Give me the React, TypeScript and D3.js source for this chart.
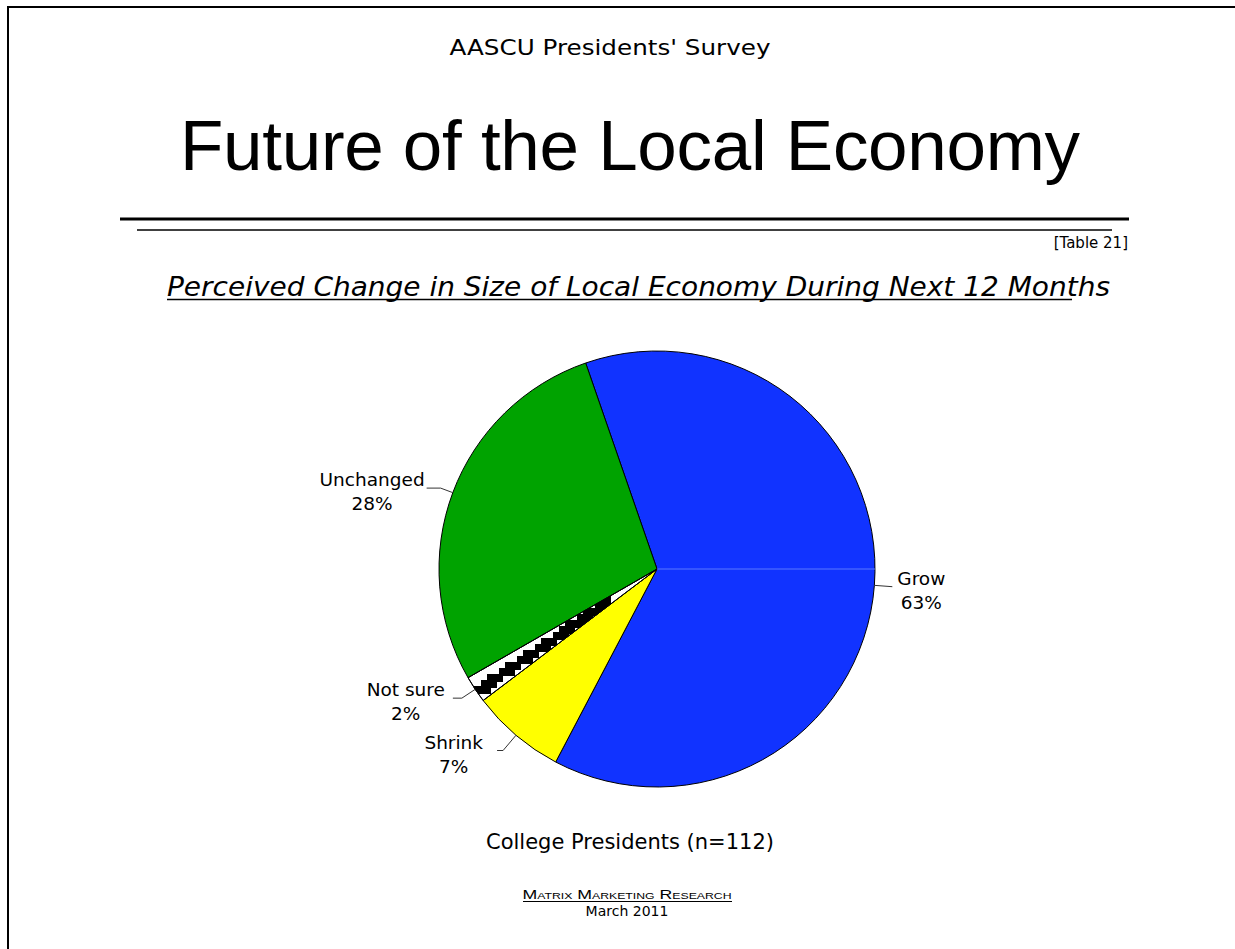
import React from "react";
import * as d3 from "d3";

const categories = ["Grow", "Shrink", "Not sure", "Unchanged"];
const values = [63, 7, 2, 28];
const sliceColors = ["#1133ff", "#ffff00", "#ffffff", "#00a300"];
const titleTop = "AASCU Presidents' Survey";
const title = "Future of the Local Economy";
const tableRef = "[Table 21]";
const heading = "Perceived Change in Size of Local Economy During Next 12 Months";
const caption = "College Presidents (n=112)";
const footer1 = "Matrix Marketing Research";
const footer2 = "March 2011";

const W = 1235;
const H = 949;
const cx = 657;
const cy = 569;
const R = 218;
const FONT = "'DejaVu Sans', 'Liberation Sans', sans-serif";
const LABEL_SIZE = 18.5;

function measure(text: string, font: string): number {
  const c = document.createElement("canvas").getContext("2d");
  if (!c) return text.length * 10;
  c.font = font;
  return c.measureText(text).width;
}

export default function App() {
  const start = (-19.1 * Math.PI) / 180;
  const pie = d3
    .pie<number>()
    .sort(null)
    .value((d) => d)
    .startAngle(start)
    .endAngle(start + 2 * Math.PI);
  const arcs = pie(values);
  const arcGen = d3.arc<d3.PieArcDatum<number>>().innerRadius(0).outerRadius(R);

  const pt = (a: number, r: number) => [cx + r * Math.sin(a), cy - r * Math.cos(a)];

  // leader configuration per slice: radial extension, horizontal tail, text gap
  const leaderExt = [18, 20, 16, 13];
  const tail = [0, 6, 9, 14];
  const gaps = [5, 14, 8, 2];

  // pattern squares for "Not sure"
  const ns = arcs[2];
  const bandAngle = (ns.startAngle + ns.endAngle) / 2 - (0.8 * Math.PI) / 180;
  const squares: { x: number; y: number }[] = [];
  for (let t = 60; t <= R + 8; t += 3) {
    const [px, py] = pt(bandAngle, t);
    const sx = Math.round(px / 6) * 6;
    const sy = Math.round(py / 6) * 6;
    if (!squares.find((s) => s.x === sx && s.y === sy)) squares.push({ x: sx, y: sy });
  }

  const labelFont = `${LABEL_SIZE}px ${FONT}`;

  return (
    <div style={{ position: "absolute", left: 0, top: 0 }}>
      <svg width={W} height={H} style={{ display: "block", background: "#fff" }}>
        {/* page border */}
        <line x1={8} y1={7} x2={W} y2={7} stroke="#000" strokeWidth={2} />
        <line x1={8} y1={6} x2={8} y2={H} stroke="#000" strokeWidth={2} />

        <text x={610} y={55} textAnchor="middle" fontFamily={FONT} fontSize={22} textLength={321} lengthAdjust="spacingAndGlyphs">
          {titleTop}
        </text>
        <text x={630} y={170} textAnchor="middle" fontFamily="'Liberation Sans', Arial, sans-serif" fontSize={71} textLength={900} lengthAdjust="spacing">
          {title}
        </text>
        <line x1={120} y1={219} x2={1129} y2={219} stroke="#000" strokeWidth={3} />
        <line x1={137} y1={230} x2={1112} y2={230} stroke="#000" strokeWidth={1.3} />
        <text x={1128} y={248} textAnchor="end" fontFamily={FONT} fontSize={15}>
          {tableRef}
        </text>
        <text x={167} y={296} fontFamily={FONT} fontStyle="italic" fontSize={27} textLength={943} lengthAdjust="spacingAndGlyphs">
          {heading}
        </text>
        <line x1={167} y1={299.5} x2={1072} y2={299.5} stroke="#000" strokeWidth={1.3} />

        <defs>
          <clipPath id="nsclip">
            <path d={arcGen(ns) || ""} transform={`translate(${cx},${cy})`} />
          </clipPath>
        </defs>

        {arcs.map((a, i) => (
          <path
            key={categories[i]}
            d={arcGen(a) || ""}
            transform={`translate(${cx},${cy})`}
            fill={sliceColors[i]}
            stroke="#000"
            strokeWidth={1}
          />
        ))}
        <g clipPath="url(#nsclip)">
          {squares.map((s, i) => (
            <rect key={i} x={s.x - 5} y={s.y - 4} width={10} height={8} fill="#000" />
          ))}
        </g>
        <path d={arcGen(ns) || ""} transform={`translate(${cx},${cy})`} fill="none" stroke="#000" strokeWidth={1} />
        {/* faint seam in Grow slice */}
        <line x1={cx} y1={cy} x2={cx + R} y2={cy} stroke="#5a78ff" strokeWidth={1} />

        {arcs.map((a, i) => {
          const mid = (a.startAngle + a.endAngle) / 2;
          const [x0, y0] = pt(mid, R);
          const [x1, y1] = pt(mid, R + leaderExt[i]);
          const right = Math.sin(mid) > 0;
          const x2 = right ? x1 + tail[i] : x1 - tail[i];
          const line2 = `${values[i]}%`;
          const w = measure(categories[i], labelFont);
          const tx = right ? x2 + gaps[i] + w / 2 : x2 - gaps[i] - w / 2;
          return (
            <g key={"l" + i}>
              <polyline points={`${x0},${y0} ${x1},${y1} ${x2},${y1}`} fill="none" stroke="#333" strokeWidth={1} />
              <text x={tx} y={y1 - 2} textAnchor="middle" fontFamily={FONT} fontSize={LABEL_SIZE}>
                {categories[i]}
              </text>
              <text x={tx} y={y1 + 22} textAnchor="middle" fontFamily={FONT} fontSize={LABEL_SIZE}>
                {line2}
              </text>
            </g>
          );
        })}

        <text x={630} y={849} textAnchor="middle" fontFamily={FONT} fontSize={21}>
          {caption}
        </text>
        <text x={627} y={899} textAnchor="middle" fontFamily="'Liberation Sans', Arial, sans-serif" fontSize={13} style={{ fontVariant: "small-caps" }} textLength={209} lengthAdjust="spacingAndGlyphs">
          {footer1}
        </text>
        <line x1={523} y1={901.5} x2={732} y2={901.5} stroke="#000" strokeWidth={1} />
        <text x={627} y={916} textAnchor="middle" fontFamily={FONT} fontSize={14}>
          {footer2}
        </text>
      </svg>
    </div>
  );
}
